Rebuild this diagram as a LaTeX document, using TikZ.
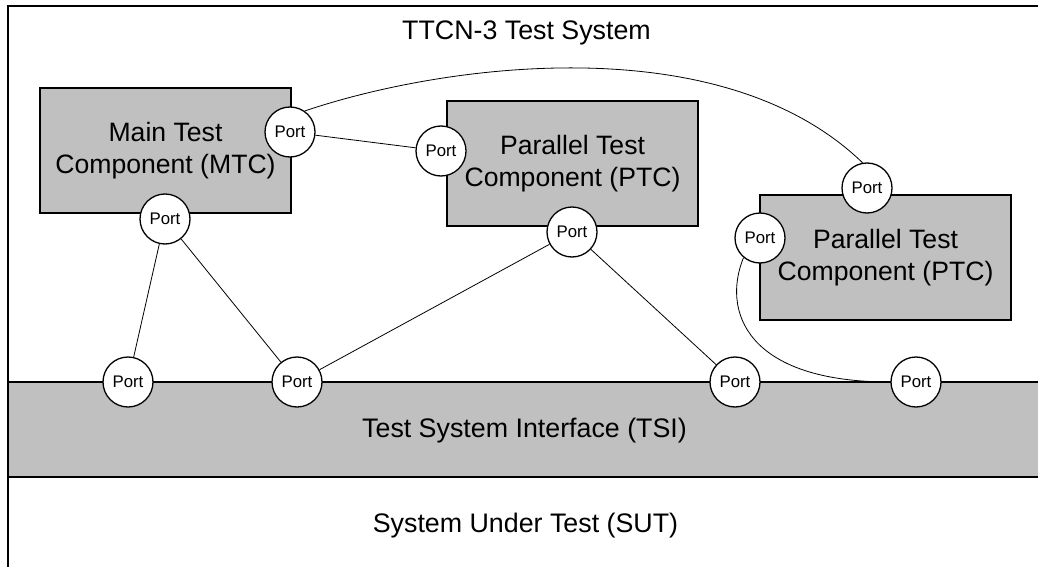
\documentclass[tikz,border=0pt]{standalone}
\usepackage{fontspec}
\setmainfont{Liberation Sans}
\definecolor{boxgray}{HTML}{C0C0C0}
\begin{document}
\begin{tikzpicture}[x=1pt,y=-1pt,
  comp/.style={draw, line width=1.5pt, fill=boxgray, minimum width=251pt, minimum height=125pt, align=center, font=\fontsize{26.6}{32}\selectfont, inner sep=0pt},
  band/.style={draw, line width=1.5pt, fill=boxgray, minimum width=1040pt, minimum height=95pt, inner sep=0pt},
  port/.style={circle, draw, line width=1.3pt, fill=white, minimum size=50pt, inner sep=0pt, font=\fontsize{16.8}{18}\selectfont},
  link/.style={line width=0.8pt},
  frame/.style={line width=1.5pt},
  caption/.style={anchor=base, font=\fontsize{26.8}{32}\selectfont, inner sep=0pt}]
\useasboundingbox (0,0) rectangle (1038,567);
\clip (0,0) rectangle (1038,567);
\fill[white] (0,0) rectangle (1038,567);
\draw[frame] (8,580) -- (8,6) -- (1050,6);
\node[band] (tsi) at (528,429.5) {};
\node[caption] (title) at (526.5,39.5) {TTCN-3 Test System};
\node[caption] (tsitext) at (524.5,437) {Test System Interface (TSI)};
\node[caption] (sut) at (525.5,532) {System Under Test (SUT)};
\node[comp] (mtc) at (165.5,150.5) {Main Test\\Component (MTC)};
\node[comp] (ptc1) at (572.5,163.5) {Parallel Test\\Component (PTC)};
\node[comp] (ptc2) at (885.5,257.5) {Parallel Test\\Component (PTC)};
\node[port] (P1) at (290,132) {Port};
\node[port] (P2) at (441,151) {Port};
\node[port] (P3) at (165,219) {Port};
\node[port] (P4) at (572,232) {Port};
\node[port] (P5) at (867,188) {Port};
\node[port] (P6) at (760,238) {Port};
\node[port] (T1) at (128,382) {Port};
\node[port] (T2) at (297,382) {Port};
\node[port] (T3) at (735,382) {Port};
\node[port] (T4) at (916,382) {Port};
\draw[link] (P1) -- (P2);
\draw[link] (P1.55) .. controls (440,65) and (720,25) .. (P5.100);
\draw[link] (P3) -- (T1);
\draw[link] (P3) -- (T2);
\draw[link] (T2) -- (P4);
\draw[link] (P4) -- (T3);
\draw[link] (P6.-130) .. controls (722,310) and (745,382) .. (T4.west);
\end{tikzpicture}
\end{document}
